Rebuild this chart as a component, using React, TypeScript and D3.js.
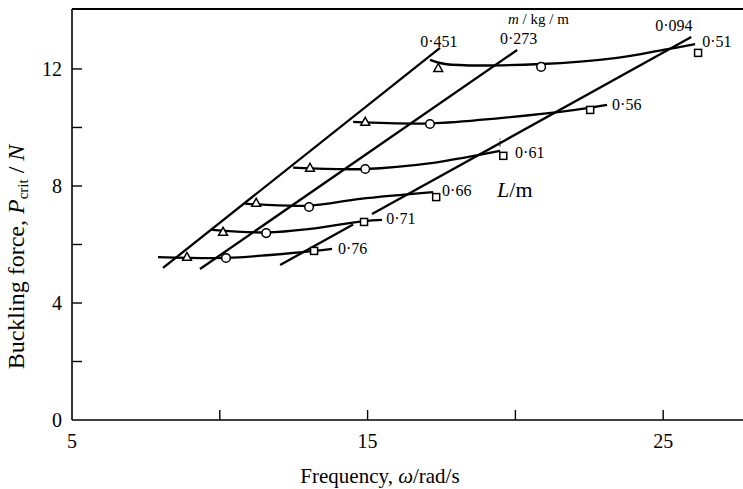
import React from "react";
import * as d3 from "d3";

// ---------- data (ω in rad/s, P in N) ----------
const xTickValues = [5, 10, 15, 20, 25];
const xTickLabels = ["5", "", "15", "", "25"];
const yTickValues = [0, 2, 4, 6, 8, 10, 12];
const yTickLabels = ["0", "", "4", "", "8", "", "12"];

// mass-per-length lines (straight), m / kg/m
const massLabels = ["0·451", "0·273", "0·094"];
const massLine451 = [[8.08, 5.2], [17.45, 12.72]];
const massLine273 = [[9.33, 5.16], [20.06, 12.65]];
const massLine094a = [[12.04, 5.3], [14.51, 6.68]];
const massLine094b = [[15.15, 7.04], [25.95, 13.09]];

// length curves, L / m
const lengthLabels = ["0·51", "0·56", "0·61", "0·66", "0·71", "0·76"];
const curve051 = [[17.11, 12.31], [17.62, 12.17], [20.87, 12.17], [23.44, 12.38], [25.0, 12.65], [26.08, 12.85]];
const curve056 = [[14.51, 10.19], [17.11, 10.14], [19.48, 10.32], [22.02, 10.6], [23.1, 10.77]];
const curve061 = [[12.48, 8.63], [14.92, 8.58], [17.22, 8.79], [18.37, 8.99], [19.48, 9.2]];
const curve066 = [[10.85, 7.4], [13.02, 7.33], [14.75, 7.56], [17.22, 7.79]];
const curve071 = [[9.74, 6.5], [11.57, 6.41], [13.05, 6.53], [14.88, 6.8], [15.49, 6.84]];
const curve076 = [[7.91, 5.57], [10.21, 5.54], [11.7, 5.64], [13.19, 5.78], [13.8, 5.85]];

// measured points (L = 0.51 ... 0.76)
const triangles = [[17.39, 12.03], [14.92, 10.19], [13.05, 8.62], [11.23, 7.42], [10.11, 6.43], [8.89, 5.57]];
const circles = [[20.87, 12.07], [17.11, 10.12], [14.92, 8.58], [13.02, 7.28], [11.57, 6.39], [10.21, 5.54]];
const squares = [[26.18, 12.55], [22.53, 10.6], [19.59, 9.03], [17.32, 7.62], [14.88, 6.77], [13.19, 5.78]];

// annotation anchors (ω, P)
const massLabelAnchors = [[16.78, 12.75], [19.48, 12.85], [24.73, 13.3]];
const lengthLabelAnchors = [[26.32, 12.75], [23.27, 10.6], [19.99, 8.96], [17.52, 7.66], [15.63, 6.7], [14.0, 5.68]];
const massTitleAnchor = [19.75, 13.54];
const lengthTitleAnchor = [19.38, 7.62];
const markTick = [[19.48, 9.35], [19.48, 9.62]];

const W = 743;
const H = 489;
const FONT = "'Liberation Serif', 'Times New Roman', serif";

export default function App() {
  const x = d3.scaleLinear().domain([5, 27.7]).range([72, 743]);
  const y = d3.scaleLinear().domain([0, 14.05]).range([420, 9]);

  const straight = d3
    .line<number[]>()
    .x((d) => x(d[0]))
    .y((d) => y(d[1]));
  const smooth = d3
    .line<number[]>()
    .x((d) => x(d[0]))
    .y((d) => y(d[1]))
    .curve(d3.curveCatmullRom.alpha(0.5));

  const massLines = [massLine451, massLine273, massLine094a, massLine094b];
  const curves = [curve051, curve056, curve061, curve066, curve071, curve076];

  const tri = (cx: number, cy: number) =>
    `M${cx},${cy - 4.6}L${cx - 4.4},${cy + 3.3}L${cx + 4.4},${cy + 3.3}Z`;

  return (
    <svg
      width={W}
      height={H}
      style={{ position: "absolute", left: 0, top: 0, background: "#fff" }}
      fontFamily={FONT}
    >
      <rect x={0} y={0} width={W} height={H} fill="#fff" />
      {/* frame */}
      <line x1={x(5)} x2={W} y1={y(0)} y2={y(0)} stroke="#000" strokeWidth={1.6} />
      <line x1={x(5)} x2={x(5)} y1={y(0)} y2={9} stroke="#000" strokeWidth={1.6} />
      <line x1={x(5)} x2={W} y1={9} y2={9} stroke="#000" strokeWidth={1.8} />

      {/* x ticks */}
      {xTickValues.map((v, i) => (
        <g key={"xt" + i}>
          {v !== 5 && (
            <line x1={x(v)} x2={x(v)} y1={y(0)} y2={y(0) - 10} stroke="#000" strokeWidth={1.4} />
          )}
          {xTickLabels[i] && (
            <text x={x(v)} y={448} fontSize={20} textAnchor="middle" fill="#000">
              {xTickLabels[i]}
            </text>
          )}
        </g>
      ))}
      {/* y ticks */}
      {yTickValues.map((v, i) => (
        <g key={"yt" + i}>
          {v !== 0 && (
            <line x1={x(5)} x2={x(5) + 10} y1={y(v)} y2={y(v)} stroke="#000" strokeWidth={1.4} />
          )}
          {yTickLabels[i] && (
            <text x={62} y={y(v) + 7} fontSize={20} textAnchor="end" fill="#000">
              {yTickLabels[i]}
            </text>
          )}
        </g>
      ))}

      {/* axis titles */}
      <text x={380} y={483} fontSize={21} textAnchor="middle" fill="#000">
        Frequency, <tspan fontStyle="italic">ω</tspan>/rad/s
      </text>
      <text transform="translate(24,257) rotate(-90)" fontSize={24} textAnchor="middle" fill="#000">
        Buckling force, <tspan fontStyle="italic">P</tspan>
        <tspan fontSize={15} dy={4}>crit</tspan>
        <tspan dy={-4}> / </tspan>
        <tspan fontStyle="italic">N</tspan>
      </text>

      {/* mass lines */}
      {massLines.map((seg, i) => (
        <path key={"m" + i} d={straight(seg as any) || ""} fill="none" stroke="#000" strokeWidth={2.3} />
      ))}
      {/* length curves */}
      {curves.map((c, i) => (
        <path key={"c" + i} d={smooth(c as any) || ""} fill="none" stroke="#000" strokeWidth={2.3} />
      ))}
      <path d={straight(markTick as any) || ""} stroke="#000" strokeWidth={1} strokeDasharray="2,1.5" />

      {/* markers */}
      {triangles.map((p, i) => (
        <path key={"t" + i} d={tri(x(p[0]), y(p[1]))} fill="#fff" stroke="#000" strokeWidth={1.5} />
      ))}
      {circles.map((p, i) => (
        <circle key={"o" + i} cx={x(p[0])} cy={y(p[1])} r={4.3} fill="#fff" stroke="#000" strokeWidth={1.5} />
      ))}
      {squares.map((p, i) => (
        <rect
          key={"s" + i}
          x={x(p[0]) - 3.5}
          y={y(p[1]) - 3.5}
          width={7}
          height={7}
          fill="#fff"
          stroke="#000"
          strokeWidth={1.5}
        />
      ))}

      {/* annotations */}
      {massLabels.map((t, i) => (
        <text key={"ml" + i} x={x(massLabelAnchors[i][0])} y={y(massLabelAnchors[i][1])} fontSize={16} fill="#000">
          {t}
        </text>
      ))}
      {lengthLabels.map((t, i) => (
        <text key={"ll" + i} x={x(lengthLabelAnchors[i][0])} y={y(lengthLabelAnchors[i][1])} fontSize={16} fill="#000">
          {t}
        </text>
      ))}
      <text x={x(massTitleAnchor[0])} y={y(massTitleAnchor[1])} fontSize={15} fill="#000">
        <tspan fontStyle="italic">m</tspan> / kg / m
      </text>
      <text x={x(lengthTitleAnchor[0])} y={y(lengthTitleAnchor[1])} fontSize={22} fill="#000">
        <tspan fontStyle="italic">L</tspan>/m
      </text>
    </svg>
  );
}
